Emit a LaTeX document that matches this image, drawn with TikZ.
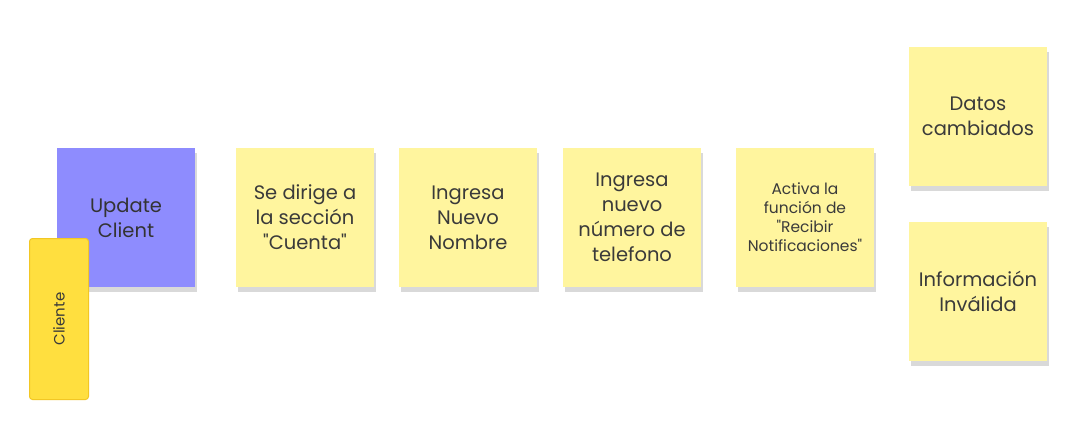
\documentclass[tikz,border=0pt]{standalone}
\usepackage{fontspec}
\setmainfont{Poppins}
\usetikzlibrary{shadows}
\definecolor{notefill}{HTML}{FFF59E}
\definecolor{eventfill}{HTML}{8E8CFE}
\definecolor{actorfill}{HTML}{FFDF3F}
\definecolor{actordraw}{HTML}{F2C724}
\definecolor{notetext}{HTML}{3A3A3A}
\tikzset{note/.style={fill=notefill,minimum width=138pt,minimum height=139pt,
        inner sep=0pt,align=center,text=notetext,font=\fontsize{19.5}{25}\selectfont,
        drop shadow={shadow xshift=1.5pt,shadow yshift=-5pt,opacity=0.15,fill=black}},
    event/.style={note,fill=eventfill,text=black!80},
    actor/.style={fill=actorfill,draw=actordraw,line width=1pt,rounded corners=3pt,
        minimum width=59pt,minimum height=161pt,inner sep=0pt,text=notetext,
        font=\fontsize{15}{18}\selectfont}}

\begin{document}
\begin{tikzpicture}[x=1pt,y=-1pt]
    \useasboundingbox[fill=white] (0,0) rectangle (1087,431);
    \node[event] (update) at (126,217.5) {Update\\Client};
    \node[actor] (cliente) at (59,319) {\rotatebox{90}{Cliente}};
    \node[note] (seccion) at (305,217.5) {Se dirige a\\la sección\\\textquotedbl Cuenta\textquotedbl};
    \node[note] (nombre) at (468,217.5) {Ingresa\\Nuevo\\Nombre};
    \node[note] (telefono) at (632,217.5) {Ingresa\\nuevo\\número de\\telefono};
    \node[note,font=\fontsize{15.5}{19}\selectfont] (notif) at (805,217.5)
        {Activa la\\función de\\\textquotedbl Recibir\\Notificaciones\textquotedbl};
    \node[note] (cambiados) at (978,116.5) {Datos\\cambiados};
    \node[note] (invalida) at (978,291.5) {Información\\Inválida};
\end{tikzpicture}
\end{document}
